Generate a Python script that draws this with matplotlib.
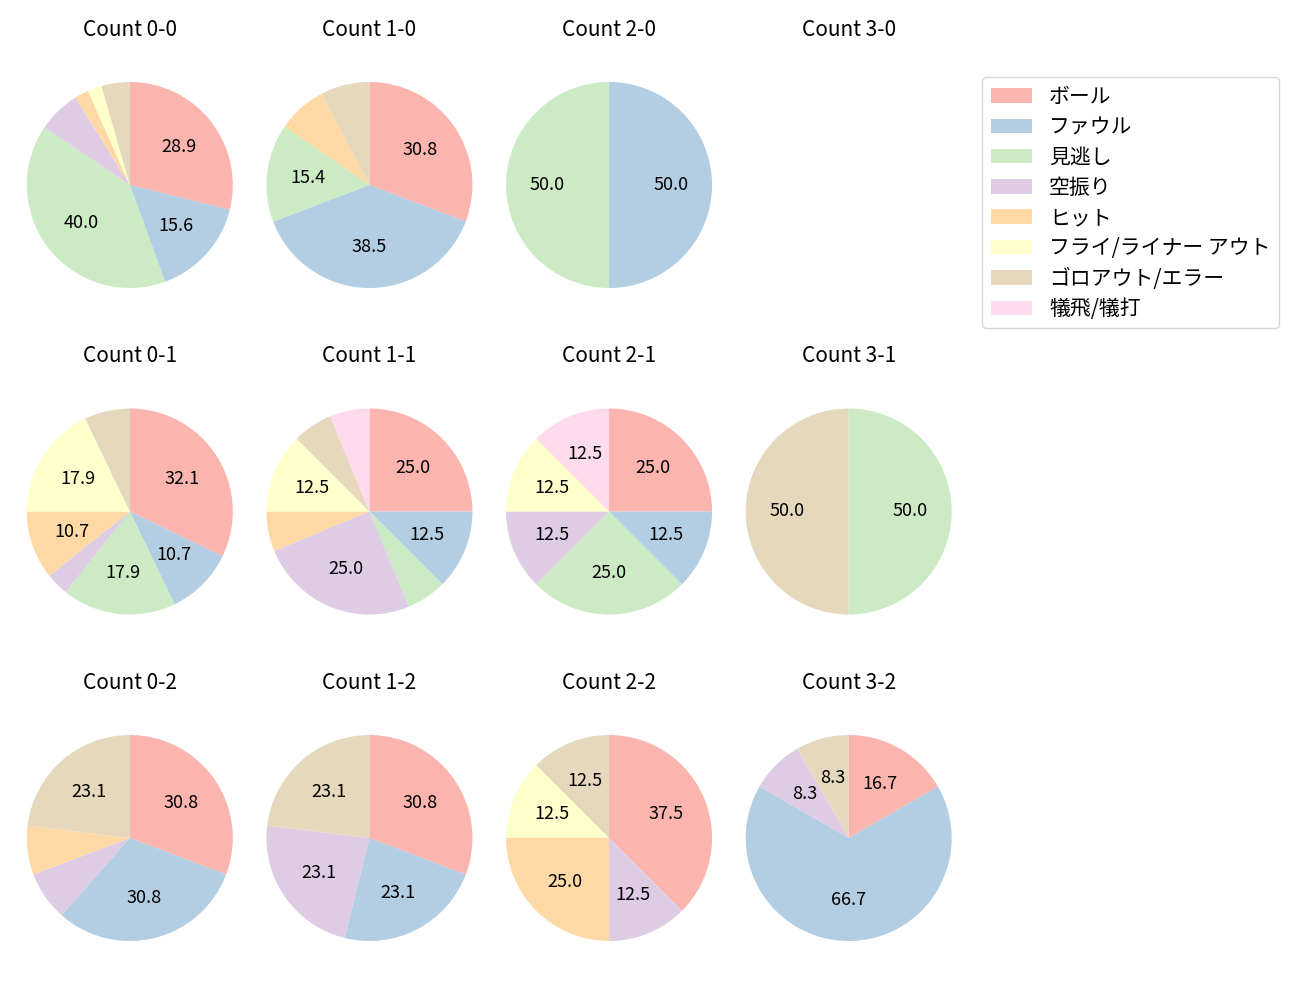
import numpy as np
import matplotlib.pyplot as plt

plt.rcParams['font.family'] = ['Noto Sans CJK JP', 'DejaVu Sans']

categories = ["ボール", "ファウル", "見逃し", "空振り", "ヒット",
              "フライ/ライナー アウト", "ゴロアウト/エラー", "犠飛/犠打"]

# counts per pitch count, order follows categories
counts = {
    "0-0": [13, 7, 18, 3, 1, 1, 2, 0],
    "1-0": [4, 5, 2, 0, 1, 0, 1, 0],
    "2-0": [0, 1, 1, 0, 0, 0, 0, 0],
    "3-0": [0, 0, 0, 0, 0, 0, 0, 0],
    "0-1": [9, 3, 5, 1, 3, 5, 2, 0],
    "1-1": [4, 2, 1, 4, 1, 2, 1, 1],
    "2-1": [2, 1, 2, 1, 0, 1, 0, 1],
    "3-1": [0, 0, 1, 0, 0, 0, 1, 0],
    "0-2": [4, 4, 0, 1, 1, 0, 3, 0],
    "1-2": [4, 3, 0, 3, 0, 0, 3, 0],
    "2-2": [3, 0, 0, 1, 2, 1, 1, 0],
    "3-2": [2, 8, 0, 1, 0, 0, 1, 0],
}
strikes = [0, 1, 2]
balls = [0, 1, 2, 3]

colors = plt.cm.Pastel1(np.arange(8))

fig, axes = plt.subplots(3, 4, figsize=(13, 10), dpi=100)
fig.subplots_adjust(left=0.0077, right=0.745, top=0.956, bottom=0.021,
                    wspace=0.0, hspace=0.158)

r_px = 103.0
handles = None
for i, s in enumerate(strikes):
    for j, b in enumerate(balls):
        ax = axes[i, j]
        key = f"{b}-{s}"
        vals = np.array(counts[key], dtype=float)
        ax.set_title(f"Count {key}", fontsize=15)
        if vals.sum() > 0:
            wedges, _, _ = ax.pie(vals, colors=colors, startangle=90, counterclock=False,
                                  autopct=lambda p: f"{p:.1f}" if p >= 8 else "",
                                  pctdistance=0.6, textprops={'fontsize': 13})
            if handles is None:
                handles = wedges
        ax.set_aspect('auto')
        bbox = ax.get_position()
        w_px = bbox.width * 1300
        h_px = bbox.height * 1000
        ax.set_xlim(-w_px / 2 / r_px, w_px / 2 / r_px)
        ax.set_ylim(-h_px / 2 / r_px, h_px / 2 / r_px)
        ax.axis('off')

fig.legend(handles, categories, loc='upper left', bbox_to_anchor=(0.7477, 0.933),
           fontsize=15, labelspacing=0.4)

plt.savefig("out.png")
